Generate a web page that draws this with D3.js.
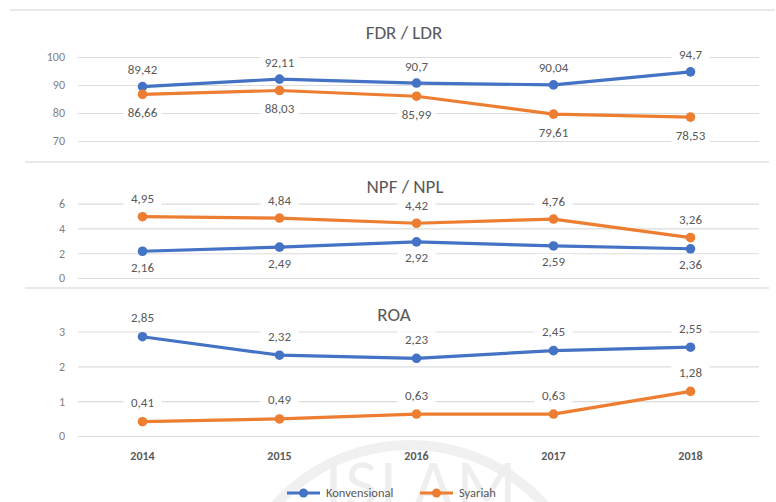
<!DOCTYPE html>
<html>
<head>
<meta charset="utf-8">
<script src="https://cdn.jsdelivr.net/npm/d3@7"></script>
<style>
  body { margin: 0; background: #fff; }
  svg { display: block; font-family: Calibri, Carlito, "Open Sans", "Noto Sans", sans-serif; }
</style>
</head>
<body>
<div id="chart"></div>
<script>
var years = ["2014", "2015", "2016", "2017", "2018"]

var fdrKonv = [89.42, 92.11, 90.7, 90.04, 94.7]
var fdrSyar = [86.66, 88.03, 85.99, 79.61, 78.53]
var npfKonv = [2.16, 2.49, 2.92, 2.59, 2.36]
var npfSyar = [4.95, 4.84, 4.42, 4.76, 3.26]
var roaKonv = [2.85, 2.32, 2.23, 2.45, 2.55]
var roaSyar = [0.41, 0.49, 0.63, 0.63, 1.28]

var fdrTicks = [70, 80, 90, 100]
var npfTicks = [0, 2, 4, 6]
var roaTicks = [0, 1, 2, 3]

var seriesNames = ["Konvensional", "Syariah"]
var colors = {Konvensional: "#4472C4", Syariah: "#ED7D31"}

var width = 776, height = 502

var svg = d3.select("#chart").append("svg")
    .attr("width", width)
    .attr("height", height)

// faint watermark behind everything
var wm = svg.append("g").attr("class", "watermark")
wm.append("path")
    .attr("d", d3.arc()({innerRadius: 176, outerRadius: 186, startAngle: -1.2, endAngle: 1.2}))
    .attr("transform", "translate(410,626)")
    .attr("fill", "#f0f0f0")
wm.append("text")
    .attr("x", 422).attr("y", 508)
    .attr("text-anchor", "middle")
    .attr("font-size", 70)
    .attr("letter-spacing", 3)
    .attr("fill", "#eeeeee")
    .text("ISLAM")

var x = d3.scalePoint()
    .domain(years)
    .range([74, 759])
    .padding(0.5)

// separator lines
svg.append("g").selectAll("line")
    .data([[10, 775, 10], [25, 769, 162], [25, 769, 288]])
    .enter().append("line")
    .attr("x1", function(d) { return d[0] })
    .attr("x2", function(d) { return d[1] })
    .attr("y1", function(d) { return d[2] })
    .attr("y2", function(d) { return d[2] })
    .attr("stroke", "#e2e2e2")
    .attr("stroke-width", 1.5)

var panels = [
    {title: "FDR / LDR", titleX: 404, titleY: 39, domain: [70, 100], range: [141, 57], ticks: fdrTicks,
     konv: fdrKonv, syar: fdrSyar, konvOff: -17, syarOff: 18},
    {title: "NPF / NPL", titleX: 405, titleY: 193, domain: [0, 6], range: [278, 203.7], ticks: npfTicks,
     konv: npfKonv, syar: npfSyar, konvOff: 16, syarOff: -18},
    {title: "ROA", titleX: 394, titleY: 321, domain: [0, 3], range: [436, 331.5], ticks: roaTicks,
     konv: roaKonv, syar: roaSyar, konvOff: -19, syarOff: -19}
]

var fmt = function(v) { return String(v).replace(".", ",") }

panels.forEach(function(p) {
    var y = d3.scaleLinear().domain(p.domain).range(p.range)
    var g = svg.append("g")

    // gridlines
    var yAxis = d3.axisLeft(y)
        .tickValues(p.ticks)
        .tickFormat(d3.format("d"))
        .tickSize(-(759 - 78))
        .tickPadding(13)
    g.append("g")
        .attr("transform", "translate(78,0)")
        .call(yAxis)
        .call(function(a) {
            a.select(".domain").remove()
            a.selectAll(".tick line").attr("stroke", "#dcdcdc").attr("stroke-width", 1.2)
            a.selectAll(".tick text")
                .attr("fill", "#7f7f7f")
                .attr("font-size", 12)
                .attr("font-family", "Calibri, Carlito, 'Open Sans', sans-serif")
        })

    g.append("text")
        .attr("x", p.titleX).attr("y", p.titleY)
        .attr("text-anchor", "middle")
        .attr("font-size", 19)
        .attr("fill", "#595959")
        .text(p.title)

    var line = d3.line()
        .x(function(d, i) { return x(years[i]) })
        .y(function(d) { return y(d) })

    var sets = [
        {name: "Konvensional", values: p.konv, off: p.konvOff},
        {name: "Syariah", values: p.syar, off: p.syarOff}
    ]

    sets.forEach(function(s) {
        g.append("path")
            .datum(s.values)
            .attr("d", line)
            .attr("fill", "none")
            .attr("stroke", colors[s.name])
            .attr("stroke-width", 3.2)
            .attr("stroke-linejoin", "round")

        g.append("g").selectAll("circle")
            .data(s.values)
            .enter().append("circle")
            .attr("cx", function(d, i) { return x(years[i]) })
            .attr("cy", function(d) { return y(d) })
            .attr("r", 4.8)
            .attr("fill", colors[s.name])
    })

    sets.forEach(function(s) {
        var lab = g.append("g").selectAll("g")
            .data(s.values)
            .enter().append("g")
            .attr("transform", function(d, i) {
                return "translate(" + x(years[i]) + "," + (y(d) + s.off) + ")"
            })
        lab.append("rect")
            .attr("x", -19).attr("y", -8)
            .attr("width", 38).attr("height", 16)
            .attr("fill", "#fff")
        lab.append("text")
            .attr("text-anchor", "middle")
            .attr("dy", "0.35em")
            .attr("font-size", 13)
            .attr("fill", "#595959")
            .text(function(d) { return fmt(d) })
    })
})

// x axis labels (bottom panel only)
svg.append("g").selectAll("text")
    .data(years)
    .enter().append("text")
    .attr("x", function(d) { return x(d) })
    .attr("y", 460)
    .attr("text-anchor", "middle")
    .attr("font-size", 12)
    .attr("font-weight", "bold")
    .attr("fill", "#595959")
    .text(function(d) { return d })

// legend
var legendX = [287, 420]
var legend = svg.append("g").selectAll("g")
    .data(seriesNames)
    .enter().append("g")
    .attr("transform", function(d, i) { return "translate(" + legendX[i] + ",493)" })
legend.append("line")
    .attr("x1", 0).attr("x2", 33)
    .attr("stroke", function(d) { return colors[d] })
    .attr("stroke-width", 3.2)
legend.append("circle")
    .attr("cx", 16.5).attr("r", 4.5)
    .attr("fill", function(d) { return colors[d] })
legend.append("text")
    .attr("x", 39).attr("dy", "0.35em")
    .attr("font-size", 12.5)
    .attr("fill", "#595959")
    .text(function(d) { return d })
</script>
</body>
</html>
